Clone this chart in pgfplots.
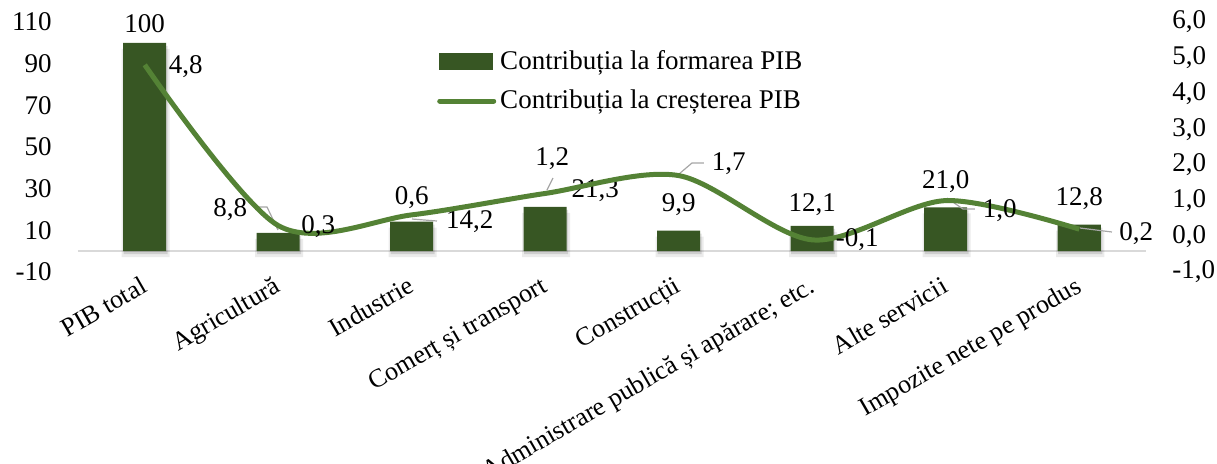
\documentclass[border=0pt]{standalone}
\usepackage{fontspec}
\setmainfont{Liberation Serif}
\usepackage{pgfplots}
\usepackage{pgfplotstable}
\pgfplotsset{compat=1.18}
\definecolor{barc}{HTML}{375623}
\definecolor{lnc}{HTML}{548235}
\definecolor{leadc}{HTML}{A6A6A6}
\definecolor{basec}{HTML}{D9D9D9}
\newcommand\fs{\fontsize{13.5}{16}\selectfont}
\newcommand\fx{\fontsize{13}{16}\selectfont}

\pgfplotstableread{
x y dx dy label
0 100  0    9.4  100
1 8.8  -24  11.4 8,8
2 14.2 29   0    14,2
3 21.3 25   8    21,3
4 9.9  0    13.2 9,9
5 12.1 0    10.5 12,1
6 21.0 0    13   21,0
7 12.8 0    13.2 12,8
}\bars

\pgfplotstableread{
x y dx dy label
0 4.8  20.5 -1   4,8
1 0.3  20   -0.7 0,3
2 0.6  0    8.5  0,6
3 1.2  3.5  17.5 1,2
4 1.7  25   5.8  1,7
5 -0.1 22.5 0    -0,1
6 1.0  27   -5.2 1,0
7 0.2  28.5 -2   0,2
}\growth

\begin{document}
\begin{tikzpicture}
\useasboundingbox (-39pt,-95.5pt) rectangle (569.5pt,136pt);
\begin{axis}[
  width=534pt, height=125pt, scale only axis,
  xmin=-0.5, xmax=7.5, ymin=-10, ymax=110,
  axis line style={draw=none}, major tick length=0pt,
  ytick={-10,10,...,110},
  xtick={0,...,7},
  xticklabels={PIB total, Agricultură, Industrie, Comerț și transport, Construcții, {Administrare publică și apărare; etc.}, Alte servicii, Impozite nete pe produs},
  xticklabel style={rotate=30, anchor=north east, inner sep=0pt, font=\fx, xshift=-3pt, yshift=0pt},
  yticklabel style={anchor=east, inner sep=0pt, xshift=-13pt, font=\fs},
  /pgf/number format/assume math mode=true,
  clip=false,
]
\draw[basec, line width=1pt] (axis cs:-0.5,0) -- (axis cs:7.5,0);
\addplot[ybar, bar shift=0.5pt, bar width=24pt, fill=black, draw=none, fill opacity=0.08, yshift=-3pt] table[x=x, y=y] {\bars};
\addplot[ybar, bar shift=0.5pt, bar width=22pt, fill=black, draw=none, fill opacity=0.12, yshift=-1.5pt] table[x=x, y=y] {\bars};
\addplot[ybar, bar shift=0pt, bar width=21.5pt, fill=barc, draw=none,
  point meta=explicit symbolic,
  visualization depends on={\thisrow{dx} \as \dx},
  visualization depends on={\thisrow{dy} \as \dy},
  nodes near coords={\pgfplotspointmeta},
  nodes near coords style={anchor=center, font=\fs, inner sep=0pt, xshift=\dx pt, yshift=\dy pt},
] table[x=x, y=y, meta=label] {\bars};
\end{axis}
\begin{axis}[
  width=534pt, height=125pt, scale only axis,
  xmin=-0.5, xmax=7.5, ymin=-1, ymax=6,
  axis line style={draw=none}, major tick length=0pt,
  xtick=\empty, ytick={-1,0,...,6},
  yticklabel pos=right,
  yticklabel style={anchor=west, inner sep=0pt, xshift=13pt, font=\fs,
    /pgf/number format/.cd, fixed, fixed zerofill, precision=1, use comma},
  /pgf/number format/assume math mode=true,
  clip=false,
  legend style={at={(0.336,0.905)}, anchor=north west, draw=none, fill=none,
    inner sep=0pt, font=\fs, row sep=5pt, legend cell align=left},
]
\addlegendimage{legend image code/.code={\fill[barc] (0pt,-4pt) rectangle (26.5pt,4pt);}}
\addlegendentry{Contribuția la formarea PIB}
\draw[leadc, line width=0.6pt] (axis cs:0.841,0.82) -- (axis cs:0.916,0.82) -- (axis cs:0.998,0.176);
\draw[leadc, line width=0.6pt] (axis cs:2.002,0.484) -- (axis cs:2.189,0.428);
\draw[leadc, line width=0.6pt] (axis cs:3.013,1.296) -- (axis cs:3.058,1.632);
\draw[leadc, line width=0.6pt] (axis cs:4.002,1.744) -- (axis cs:4.099,2.052) -- (axis cs:4.189,2.052);
\draw[leadc, line width=0.6pt] (axis cs:6.009,1.072) -- (axis cs:6.129,0.764) -- (axis cs:6.219,0.764);
\draw[leadc, line width=0.6pt] (axis cs:7.006,0.232) -- (axis cs:7.245,0.12);
\addplot[lnc, line width=2.5pt, smooth, tension=0.5, mark=none,
  legend image code/.code={\draw[lnc, line width=2.5pt, line cap=round] (0pt,0pt) -- (27pt,0pt);},
  point meta=explicit symbolic,
  visualization depends on={\thisrow{dx} \as \dx},
  visualization depends on={\thisrow{dy} \as \dy},
  nodes near coords={\pgfplotspointmeta},
  nodes near coords style={anchor=center, font=\fs, inner sep=0pt, xshift=\dx pt, yshift=\dy pt, text=black},
] table[x=x, y=y, meta=label] {\growth};
\addlegendentry{Contribuția la creșterea PIB}
\end{axis}
\end{tikzpicture}
\end{document}
